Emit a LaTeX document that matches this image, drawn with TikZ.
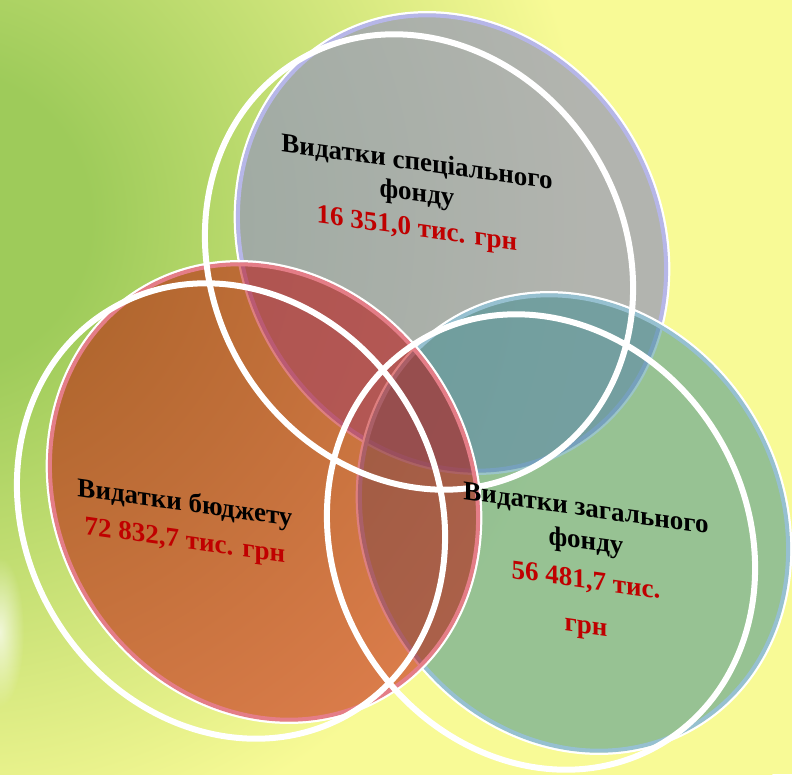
\documentclass[tikz,border=0pt]{standalone}
\usepackage{fontspec}
\setmainfont{Liberation Serif}
\usetikzlibrary{fadings}

\definecolor{bggreen}{RGB}{158,203,90}
\definecolor{bgyellow}{RGB}{248,250,150}
\definecolor{specfill}{RGB}{152,154,185}
\definecolor{genfill}{RGB}{56,140,146}
\definecolor{budfill}{RGB}{190,0,0}
\definecolor{specedge}{RGB}{182,182,232}
\definecolor{genedge}{RGB}{150,192,208}
\definecolor{budedge}{RGB}{228,125,135}
\definecolor{sumred}{RGB}{192,0,0}

\pgfdeclareradialshading{bgramp}{\pgfpoint{0bp}{0bp}}{color(0bp)=(bggreen); color(3.75bp)=(bggreen); color(16.25bp)=(bgyellow); color(50bp)=(bgyellow)}
\tikzfading[name=softglow, inner color=transparent!0, outer color=transparent!100]

\tikzset{
  tilt/.style={rotate around={31:(#1)}},
  vennsize/.style={x radius=206, y radius=235},
  vennrim/.style={x radius=209, y radius=238},
  rim/.style={white, line width=2.5pt},
  discedge/.style={line width=4pt},
  ring/.style={white, line width=6pt},
  fundtext/.style={align=center, inner sep=0pt, yslant=-0.14,
    font=\fontsize{27}{31}\selectfont\bfseries},
}

\begin{document}
\begin{tikzpicture}[x=1pt, y=-1pt]
  \useasboundingbox (0,0) rectangle (792,774);

  % Background
  \begin{scope}
    \clip (0,0) rectangle (792,774);
    \fill[bgyellow] (0,0) rectangle (792,774);
    \shade[shading=bgramp] (-60,220) circle [radius=1000];
    \fill[white, path fading=softglow, fill opacity=0.7] (0,632) ellipse [x radius=24, y radius=75];
  \end{scope}

  % Centres of the front rings and of the discs behind them
  \coordinate (specRing) at (419,262);
  \coordinate (specDisc) at (452,243);
  \coordinate (genRing) at (541,542);
  \coordinate (genDisc) at (574,523);
  \coordinate (budRing) at (231,511);
  \coordinate (budDisc) at (264,492);

  % Discs
  \fill[specfill, fill opacity=0.72, tilt=specDisc] (specDisc) ellipse [vennsize];
  \draw[rim, tilt=specDisc] (specDisc) ellipse [vennrim];
  \draw[specedge, discedge, tilt=specDisc] (specDisc) ellipse [vennsize];

  \fill[genfill, fill opacity=0.5, tilt=genDisc] (genDisc) ellipse [vennsize];
  \draw[rim, tilt=genDisc] (genDisc) ellipse [vennrim];
  \draw[genedge, discedge, tilt=genDisc] (genDisc) ellipse [vennsize];

  \fill[budfill, fill opacity=0.5, tilt=budDisc] (budDisc) ellipse [vennsize];
  \draw[rim, tilt=budDisc] (budDisc) ellipse [vennrim];
  \draw[budedge, discedge, tilt=budDisc] (budDisc) ellipse [vennsize];

  % Front rings
  \draw[ring, tilt=specRing] (specRing) ellipse [vennsize];
  \draw[ring, tilt=genRing] (genRing) ellipse [vennsize];
  \draw[ring, tilt=budRing] (budRing) ellipse [vennsize];

  % Labels
  \node[fundtext] (specText) at (417,197)
    {Видатки спеціального\\фонду\\[4pt]\textcolor{sumred}{16 351,0 тис. грн}};
  \node[fundtext] (budText) at (185,523)
    {Видатки бюджету\\[6pt]\textcolor{sumred}{72 832,7 тис. грн}};
  \node[fundtext] (genText) at (586,569)
    {Видатки загального\\[2pt]фонду\\[8pt]\textcolor{sumred}{56 481,7 тис.}\\[14pt]\textcolor{sumred}{грн}};
\end{tikzpicture}
\end{document}
